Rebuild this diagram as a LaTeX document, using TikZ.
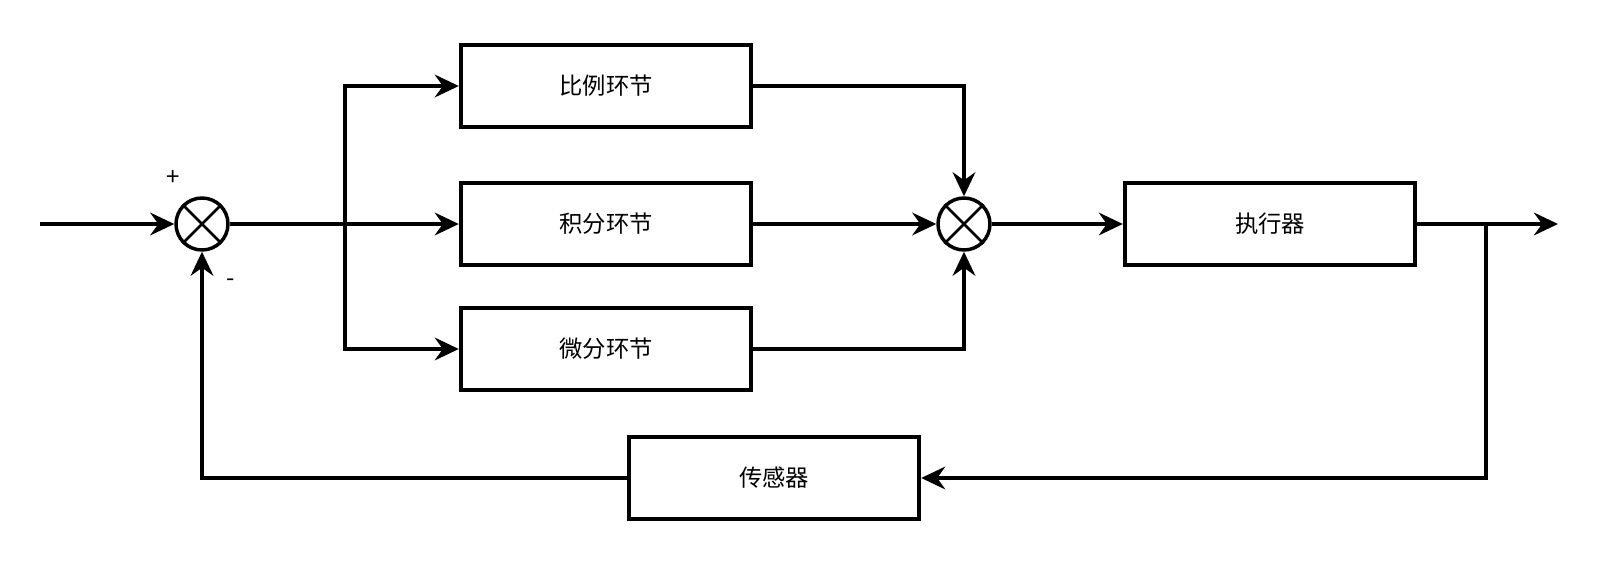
\documentclass[tikz,border=0pt]{standalone}
\usepackage{fontspec}
\newfontfamily\cjk{Noto Sans CJK SC}
\usetikzlibrary{arrows.meta}

\tikzset{
  block/.style={draw, line width=2.8pt, minimum width=218pt, minimum height=62pt,
                inner sep=0pt, font=\cjk\fontsize{17.5}{20}\selectfont},
  summer/.style={draw, circle, line width=2.6pt, minimum size=39pt, inner sep=0pt},
  arr/.style={line width=2.6pt, -{Stealth[length=18pt,width=17pt,inset=6pt]}},
  wire/.style={line width=2.6pt},
  sign/.style={font=\cjk\fontsize{18}{18}\selectfont, inner sep=0pt}
}

\begin{document}
\begin{tikzpicture}[x=0.75pt, y=-0.75pt]
               \useasboundingbox (0,0) rectangle (1600,567);
               % blocks
               \node[block] (pP) at (606,86) {比例环节};
               \node[block] (pI) at (606,224) {积分环节};
               \node[block] (pD) at (606,349) {微分环节};
               \node[block] (act) at (1270,224) {执行器};
               \node[block] (sen) at (774,478) {传感器};
               % summing points
               \node[summer] (s1) at (202,224) {};
               \node[summer] (s2) at (964,224) {};
               \draw[line width=2pt] (s1.north west) -- (s1.south east) (s1.north east) -- (s1.south west);
               \draw[line width=2pt] (s2.north west) -- (s2.south east) (s2.north east) -- (s2.south west);
               \node[sign] (plus) at (173,178) {+};
               \node[sign] (minus) at (231,283) {-};
               % free ends
               \coordinate (in) at (40,224);
               \coordinate (br) at (345,224);
               \coordinate (tap) at (1486,224);
               \coordinate (out) at (1558,224);
               % connectors
               \draw[arr] (in) -- (s1);
               \draw[wire] (s1.east) -- (br);
               \draw[arr] (br) -- (pI);
               \draw[arr] (br) |- (pP);
               \draw[arr] (br) |- (pD);
               \draw[arr] (pP) -| (s2);
               \draw[arr] (pI) -- (s2);
               \draw[arr] (pD) -| (s2);
               \draw[arr] (s2) -- (act);
               \draw[arr] (act) -- (out);
               \draw[arr] (tap) |- (sen);
               \draw[arr] (sen) -| (s1);
            \end{tikzpicture}
\end{document}
